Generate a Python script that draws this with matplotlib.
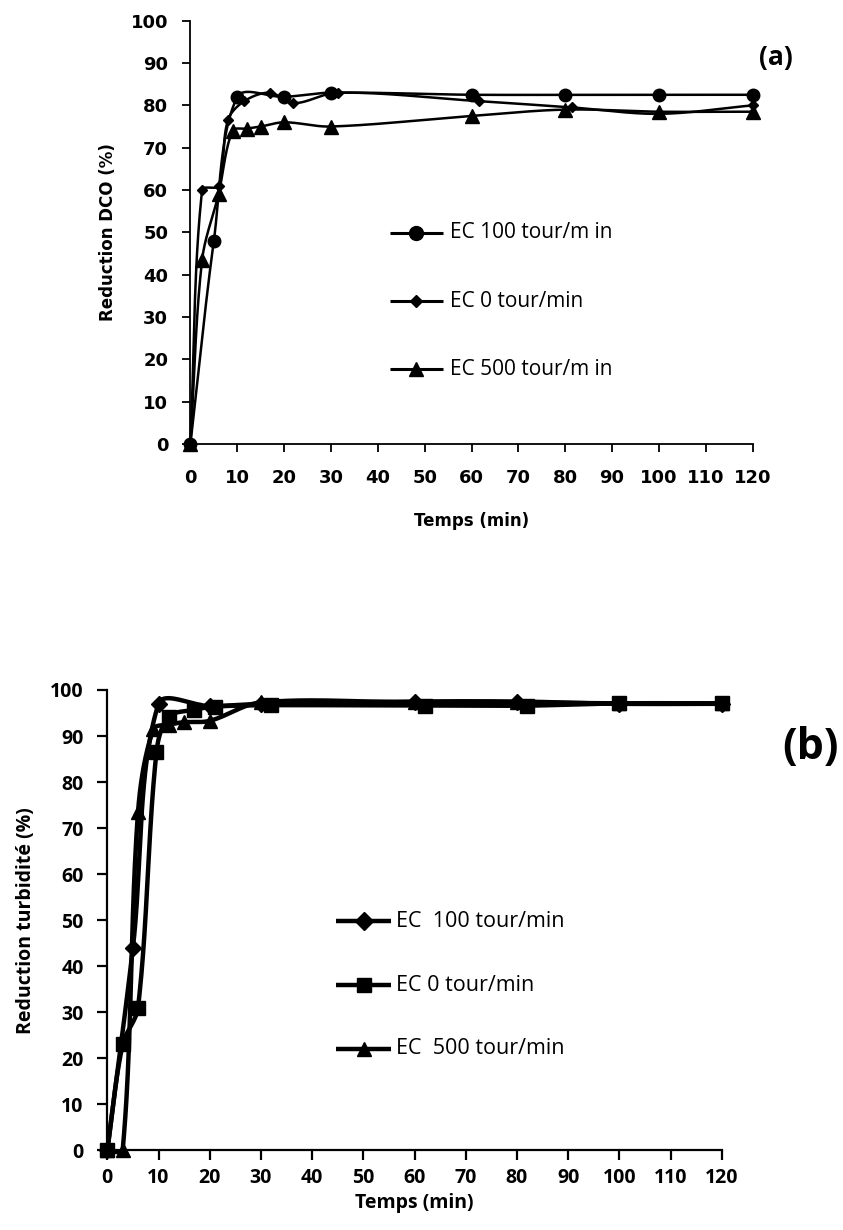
import numpy as np
import matplotlib
matplotlib.use("Agg")
import matplotlib.pyplot as plt

# ---------------- data (a): Reduction DCO ----------------
t_a100 = [0, 5, 10, 20, 30, 60, 80, 100, 120]
v_a100 = [0, 48, 82, 82, 83, 82.5, 82.5, 82.5, 82.5]
t_a0 = [0, 2.5, 6, 8, 11.5, 17, 22, 31.5, 61.5, 81.5, 100, 120]
v_a0 = [0, 60, 61, 76.5, 81, 83, 80.5, 83, 81, 79.5, 78, 80]
t_a500 = [0, 2.5, 6, 9, 12, 15, 20, 30, 60, 80, 100, 120]
v_a500 = [0, 43.5, 59, 74, 74.5, 75, 76, 75, 77.5, 79, 78.5, 78.5]
labels_a = ["EC 100 tour/m in", "EC 0 tour/min", "EC 500 tour/m in"]

# ---------------- data (b): Reduction turbidite ----------------
t_b100 = [0, 5, 10, 20, 30, 60, 80, 100, 120]
v_b100 = [0, 44, 97, 96.5, 97, 97.5, 97.5, 97, 97]
t_b0 = [0, 3, 6, 9.6, 12, 17, 21, 32, 62, 82, 100, 120]
v_b0 = [0, 23, 31, 86.5, 94.2, 95.7, 96.4, 96.7, 96.6, 96.6, 97.1, 97.1]
t_b500 = [0, 3, 6, 9, 12, 15, 20, 30, 60, 80, 100, 120]
v_b500 = [0, 0, 73.5, 91.5, 92.5, 93, 93.3, 97.3, 97.3, 97.3, 97.1, 97.1]
labels_b = ["EC  100 tour/min", "EC 0 tour/min", "EC  500 tour/min"]

xticks = list(range(0, 121, 10))
yticks = list(range(0, 101, 10))


def smooth(ax, t, v, n=40):
    """Excel-like smoothed line (length-weighted Bezier in display space)."""
    P = ax.transData.transform(np.column_stack([t, v]))
    m = len(P)
    d = np.hypot(*np.diff(P, axis=0).T)
    out = [P[0]]
    s = np.linspace(0, 1, n)[1:]
    for i in range(m - 1):
        p1, p2 = P[i], P[i + 1]
        if i > 0:
            c1 = p1 + (P[i + 1] - P[i - 1]) * d[i] / (3 * (d[i - 1] + d[i]))
        else:
            c1 = p1 + (p2 - p1) / 3
        if i + 2 < m:
            c2 = p2 - (P[i + 2] - P[i]) * d[i] / (3 * (d[i] + d[i + 1]))
        else:
            c2 = p2 - (p2 - p1) / 3
        for u in s:
            out.append(((1 - u) ** 3) * p1 + 3 * ((1 - u) ** 2) * u * c1
                       + 3 * (1 - u) * u * u * c2 + u ** 3 * p2)
    return ax.transData.inverted().transform(np.array(out))


def manual_legend(ax, rows, x0, x1, ys, lw, fs, family, tx):
    for (mk, ms, lab), y in zip(rows, ys):
        ax.plot([x0, x1], [y, y], transform=ax.transAxes, color="black", lw=lw,
                clip_on=False, solid_capstyle="butt")
        ax.plot([(x0 + x1) / 2], [y], transform=ax.transAxes, color="black",
                marker=mk, ms=ms, linestyle="none", clip_on=False)
        ax.text(tx, y, lab, transform=ax.transAxes, fontsize=fs, family=family,
                ha="left", va="center")


W, H = 843, 1230
fig = plt.figure(figsize=(W / 100, H / 100), dpi=100)

# ---------------- panel (a) ----------------
axa = fig.add_axes([190.4 / W, 1 - 444 / H, 562.3 / W, 423.3 / H])
axa.set_xlim(0, 120)
axa.set_ylim(0, 100)
fig.canvas.draw()

series_a = [(t_a100, v_a100, "o", 9), (t_a0, v_a0, "D", 5.5), (t_a500, v_a500, "^", 9.5)]
for (t, v, mk, ms) in series_a:
    c = smooth(axa, t, v)
    axa.plot(c[:, 0], c[:, 1], color="black", lw=1.8, zorder=2, clip_on=False)
    axa.plot(t, v, linestyle="none", marker=mk, ms=ms, color="black", zorder=3,
             clip_on=False)

axa.set_xticks(xticks)
axa.set_yticks(yticks)
for s in ["top", "right"]:
    axa.spines[s].set_visible(False)
for s in ["left", "bottom"]:
    axa.spines[s].set_linewidth(1.3)
axa.tick_params(direction="out", length=6, width=1.3, labelsize=13)
axa.tick_params(axis="y", pad=10)
axa.tick_params(axis="x", pad=12)
for lab in axa.get_xticklabels() + axa.get_yticklabels():
    lab.set_fontweight("bold")
    lab.set_family("DejaVu Sans")
axa.set_ylabel("Reduction DCO (%)", fontsize=12, fontweight="bold", labelpad=10)
axa.set_xlabel("Temps (min)", fontsize=12, fontweight="bold", labelpad=18)
axa.text(1.072, 0.913, "(a)", transform=axa.transAxes, fontsize=19, fontweight="bold",
         family="Open Sans", ha="right", va="center")
rows_a = [("o", 10, labels_a[0]), ("D", 6, labels_a[1]), ("^", 9.5, labels_a[2])]
manual_legend(axa, rows_a, 0.355, 0.449, [0.499, 0.337, 0.176], 2.2, 15,
              "Open Sans", 0.462)

# ---------------- panel (b) ----------------
axb = fig.add_axes([107.3 / W, 1 - 1150.3 / H, 614.4 / W, 460.3 / H])
axb.set_xlim(0, 120)
axb.set_ylim(0, 100)
fig.canvas.draw()

series_b = [(t_b100, v_b100, "D", 8), (t_b0, v_b0, "s", 10.5), (t_b500, v_b500, "^", 10.5)]
for (t, v, mk, ms) in series_b:
    c = smooth(axb, t, v)
    axb.plot(c[:, 0], c[:, 1], color="black", lw=3.2, zorder=2, clip_on=False)
    axb.plot(t, v, linestyle="none", marker=mk, ms=ms, color="black", zorder=3,
             clip_on=False)

axb.set_xticks(xticks)
axb.set_yticks(yticks)
for s in ["top", "right"]:
    axb.spines[s].set_visible(False)
for s in ["left", "bottom"]:
    axb.spines[s].set_linewidth(1.6)
axb.tick_params(direction="out", length=7, width=1.6, labelsize=14)
axb.tick_params(axis="y", pad=10)
axb.tick_params(axis="x", pad=6)
for lab in axb.get_xticklabels() + axb.get_yticklabels():
    lab.set_fontweight("bold")
    lab.set_family("Open Sans")
axb.set_ylabel("Reduction turbidité (%)", fontsize=14, fontweight="bold",
               family="Open Sans", labelpad=10)
axb.set_xlabel("Temps (min)", fontsize=14, fontweight="bold", family="Open Sans",
               labelpad=3)
axb.text(1.19, 0.875, "(b)", transform=axb.transAxes, fontsize=31, fontweight="bold",
         family="Open Sans", ha="right", va="center")
rows_b = [("D", 9, labels_b[0]), ("s", 10.5, labels_b[1]), ("^", 9.5, labels_b[2])]
manual_legend(axb, rows_b, 0.373, 0.461, [0.498, 0.359, 0.221], 3.2, 15.5,
              "Open Sans", 0.47)

fig.savefig("out.png", dpi=100)
